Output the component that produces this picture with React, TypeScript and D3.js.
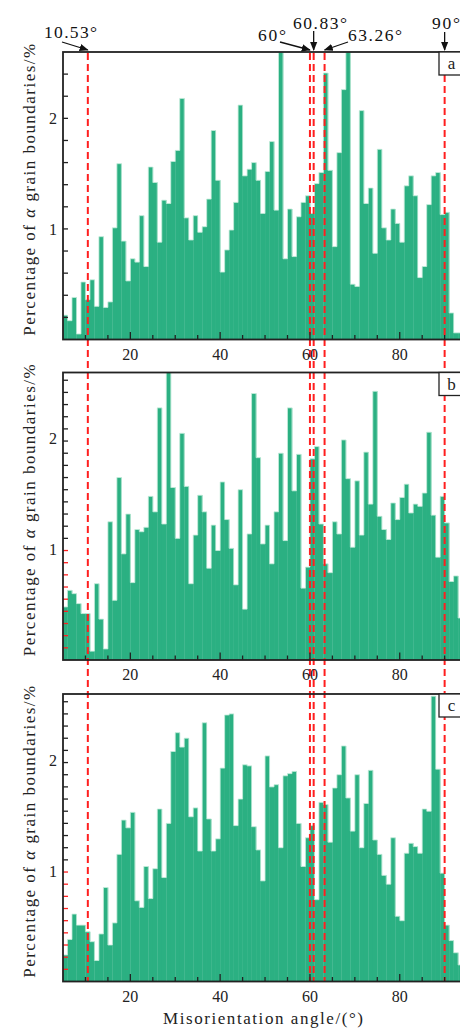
import React from "react";
import * as d3 from "d3";

// bin starts (1° wide bins)
const binStarts = d3.range(5, 94);

const panelA = [
  0.22, 0.17, 0.38, 0.05, 0.52, 0.36, 0.54, 0.3, 0.93, 0.29, 0.34, 1.01, 1.59, 0.89, 0.53, 0.73, 0.7, 1.12, 0.66, 1.56,
  1.42, 0.88, 1.26, 1.23, 1.61, 1.71, 2.18, 1.1, 0.9, 1.12, 0.97, 1.02, 1.27, 1.89, 1.44, 0.61, 0.81, 0.99, 1.24, 2.12,
  1.48, 1.54, 1.6, 1.44, 1.14, 1.52, 1.79, 1.17, 2.7, 0.73, 1.18, 0.75, 1.11, 1.24, 1.3, 1.14, 1.41, 1.51, 2.41, 1.53,
  0.84, 1.69, 2.26, 2.7, 0.5, 0.48, 2.07, 1.23, 1.37, 0.78, 1.72, 1.01, 0.9, 1.18, 1.05, 0.88, 1.39, 1.48, 1.3, 0.56,
  0.66, 1.22, 1.48, 1.51, 1.13, 1.15, 0.24, 0.06, 0.06,
];

const panelB = [
  0.48, 0.63, 0.6, 0.51, 0.42, 0.42, 0.08, 0.69, 0.37, 0.1, 1.25, 0.54, 1.65, 0.96, 1.32, 0.7, 1.18, 1.16, 1.2, 1.48,
  1.34, 2.28, 1.23, 2.7, 1.56, 1.1, 2.05, 1.57, 0.69, 1.13, 1.49, 1.34, 0.83, 1.22, 0.99, 1.61, 1.27, 1.01, 0.68, 1.54,
  0.46, 1.14, 2.41, 1.83, 1.05, 1.22, 0.87, 1.34, 1.87, 1.08, 2.28, 1.53, 1.86, 0.65, 0.84, 1.82, 1.93, 1.23, 0.87, 0.79,
  1.25, 1.14, 1.99, 1.64, 1.02, 1.62, 1.13, 1.88, 1.41, 2.43, 1.3, 1.18, 1.09, 1.42, 1.27, 1.47, 1.59, 1.33, 1.41, 1.39,
  1.51, 2.06, 1.31, 0.93, 1.48, 1.24, 0.71, 0.76, 0.38,
];

const panelC = [
  0.24, 0.38, 0.61, 0.51, 0.51, 0.45, 0.36, 0.19, 0.43, 0.85, 0.33, 0.53, 1.15, 1.46, 1.39, 1.53, 0.73, 0.67, 1.04, 0.75,
  1.02, 1.56, 0.94, 1.43, 2.08, 2.25, 2.12, 2.2, 1.49, 1.57, 1.18, 2.34, 1.47, 1.18, 1.29, 1.93, 2.41, 2.42, 1.41, 1.65,
  1.96, 1.95, 1.4, 1.19, 0.91, 2.04, 1.76, 1.78, 1.21, 1.86, 1.88, 1.9, 1.43, 1.04, 1.3, 1.41, 0.74, 1.62, 1.6, 1.26,
  1.75, 1.87, 2.13, 1.66, 1.36, 1.87, 1.21, 1.61, 1.91, 1.28, 1.15, 0.96, 0.88, 1.3, 0.59, 0.55, 1.16, 1.25, 1.22, 1.16,
  1.56, 1.54, 2.58, 1.92, 0.98, 0.51, 0.37, 0.26, 0.15,
];

const panelLetters = ["a", "b", "c"];
const markAngles = [10.53, 60, 60.83, 63.26, 90];
const markLabels = ["10.53°", "60°", "60.83°", "63.26°", "90°"];
const xTickLabels = [20, 40, 60, 80];
const yTickLabels = [1, 2];

const W = 460;
const H = 1028;
const panelTops = [52, 372.5, 694];
const panelH = 287.5;
const left = 63;
const right = 462.6;
const font = '"Liberation Serif", "DejaVu Serif", serif';
const green = "#2bb082";
const red = "#ff1f1f";
const ink = "#222";

// annotation layout: text pos + arrow start
const annLayout = [
  { tx: 44, ty: 38, tw: 53, ax: 62, ay: 42 },
  { tx: 258, ty: 41, tw: 28, ax: 280, ay: 42 },
  { tx: 293, ty: 29, tw: 54, ax: null, ay: 31 },
  { tx: 348, ty: 41, tw: 54, ax: 348, ay: 42 },
  { tx: 432, ty: 29, tw: 28, ax: null, ay: 32 },
];

export default function App() {
  const x = d3.scaleLinear().domain([5, 94]).range([left, right]);
  const series = [panelA, panelB, panelC];
  const xMinor = d3.range(10, 95, 5);

  return (
    <svg
      width={W}
      height={H}
      style={{ position: "absolute", left: 0, top: 0, background: "#fff" }}
      fontFamily={font}
    >
      <defs>
        <marker id="arr" viewBox="0 0 10 10" refX="9" refY="5" markerWidth="7" markerHeight="7" orient="auto">
          <path d="M0,1 L10,5 L0,9 Z" fill="#111" />
        </marker>
        {panelTops.map((t, i) => (
          <clipPath id={`clip${i}`} key={i}>
            <rect x={left} y={t} width={right - left} height={panelH} />
          </clipPath>
        ))}
      </defs>

      {series.map((vals, pi) => {
        const top = panelTops[pi];
        const bottom = top + panelH;
        const y = d3.scaleLinear().domain([0, 2.6]).range([bottom, top]).clamp(true);
        const pts = binStarts.map((b, i) => [b, vals[i]] as [number, number]);
        pts.push([94, vals[vals.length - 1]]);
        const outline = d3
          .line<[number, number]>()
          .x((d) => x(d[0]))
          .y((d) => y(d[1]))
          .curve(d3.curveStepAfter)(pts);
        const yTicks =
          pi === 0 ? d3.range(1, 13).map((k) => k * 0.2) : d3.range(1, 24).map((k) => k * 0.11);
        return (
          <g key={pi}>
            <g clipPath={`url(#clip${pi})`}>
              {binStarts.map((b, i) => (
                <rect
                  key={b}
                  x={x(b)}
                  y={y(vals[i])}
                  width={x(b + 1) - x(b) + 0.3}
                  height={bottom - y(vals[i])}
                  fill={green}
                />
              ))}
              <path d={outline || ""} fill="none" stroke="#c4ecdb" strokeWidth={0.8} />
            </g>
          </g>
        );
      })}

      {/* dashed reference lines across all panels */}
      {markAngles.map((a) => (
        <line
          key={a}
          x1={x(a)}
          x2={x(a)}
          y1={panelTops[0] + 1}
          y2={panelTops[2] + panelH}
          stroke={red}
          strokeWidth={2}
          strokeDasharray="7,4"
        />
      ))}

      {series.map((vals, pi) => {
        const top = panelTops[pi];
        const bottom = top + panelH;
        const y = d3.scaleLinear().domain([0, 2.6]).range([bottom, top]);
        const yTicks =
          pi === 0 ? d3.range(1, 13).map((k) => k * 0.2) : d3.range(1, 24).map((k) => k * 0.11);
        return (
          <g key={`ax${pi}`}>
            {yTicks.map((t, k) => (
              <line
                key={k}
                x1={left}
                x2={left + 5}
                y1={y(t)}
                y2={y(t)}
                stroke={pi > 0 && t <= 1 ? red : ink}
                strokeWidth={1.3}
              />
            ))}
            {yTickLabels.map((t) => (
              <text key={t} x={57} y={y(t)} dy="0.35em" textAnchor="end" fontSize={16} fill={ink}>
                {t}
              </text>
            ))}
            {xMinor.map((t) => (
              <line
                key={t}
                x1={x(t)}
                x2={x(t)}
                y1={bottom}
                y2={bottom - (t % 20 === 0 ? 7.5 : 4.5)}
                stroke={ink}
                strokeWidth={1.3}
              />
            ))}
            {xTickLabels.map((t) => (
              <text key={t} x={x(t)} y={bottom + 20} textAnchor="middle" fontSize={16} fill={ink}>
                {t}
              </text>
            ))}
            <rect x={left} y={top} width={right - left} height={panelH} fill="none" stroke={ink} strokeWidth={1.8} />
            <rect x={439} y={top} width={30} height={23} fill="#fff" stroke={ink} strokeWidth={1.3} />
            <text x={451.5} y={top + 17} textAnchor="middle" fontSize={17} fill={ink}>
              {panelLetters[pi]}
            </text>
            <text
              transform={`translate(35, ${top + panelH / 2 - 6}) rotate(-90)`}
              textAnchor="middle"
              fontSize={17}
              fill={ink}
              textLength={292}
              lengthAdjust="spacing"
            >
              Percentage of <tspan fontStyle="italic">α</tspan> grain boundaries/%
            </text>
          </g>
        );
      })}

      {/* top annotations */}
      {markAngles.map((a, i) => {
        const L = annLayout[i];
        const ax = L.ax === null ? x(a) : L.ax;
        return (
          <g key={`ann${i}`}>
            <text x={L.tx} y={L.ty} fontSize={17.5} fill="#111" textLength={L.tw} lengthAdjust="spacing">
              {markLabels[i]}
            </text>
            <line x1={ax} y1={L.ay} x2={x(a)} y2={50} stroke="#111" strokeWidth={1.3} markerEnd="url(#arr)" />
          </g>
        );
      })}

      <text x={263} y={1024} textAnchor="middle" fontSize={17} fill={ink} textLength={200} lengthAdjust="spacing">
        Misorientation angle/(°)
      </text>
    </svg>
  );
}
